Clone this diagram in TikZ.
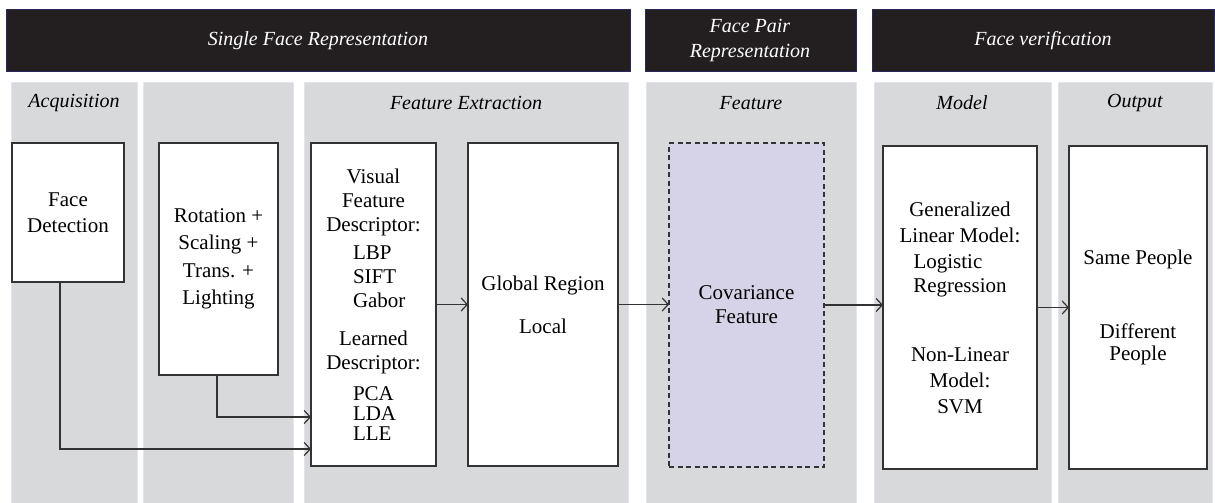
\documentclass[tikz,border=0pt]{standalone}
\usepackage{fontspec}
\setmainfont{Liberation Serif}
\usetikzlibrary{arrows.meta}
\definecolor{hdr}{HTML}{231F20}
\definecolor{hdrline}{HTML}{2B2860}
\definecolor{pan}{HTML}{D8D9DB}
\definecolor{panline}{HTML}{E3E4F0}
\definecolor{covfill}{HTML}{D6D3E8}
\definecolor{ln}{HTML}{333333}
\begin{document}
\begin{tikzpicture}[x=1pt,y=-1pt,
 hdrbox/.style={draw=hdrline,line width=0.8pt,fill=hdr},
 panbox/.style={draw=panline,line width=0.8pt,fill=pan},
 hdrtext/.style={text=white,font=\fontsize{20}{25}\selectfont\itshape,align=center},
 pantext/.style={font=\fontsize{20}{24}\selectfont\itshape},
 procbox/.style={draw=ln,line width=1.2pt,fill=white,inner sep=0pt,outer sep=0pt,anchor=north west,align=center,font=\fontsize{21}{24}\selectfont},
 conn/.style={draw=ln,line width=1.2pt,-{Straight Barb[length=6pt,width=13pt]}}]
\useasboundingbox (0,0) rectangle (1215,503);
\fill[white] (0,0) rectangle (1215,503);
% headers
\draw[hdrbox] (6,9) rectangle (630,71);
\draw[hdrbox] (645,9) rectangle (856,71);
\draw[hdrbox] (872,9) rectangle (1214.5,71);
\node[hdrtext] (h1) at (318,41) {Single Face Representation};
\node[hdrtext] (h2) at (750,41) {Face Pair\\Representation};
\node[hdrtext] (h3) at (1043,41) {Face verification};
% panels
\draw[panbox] (11,82) rectangle (137,504);
\draw[panbox] (143,82) rectangle (293,504);
\draw[panbox] (304,82) rectangle (628,504);
\draw[panbox] (646,82) rectangle (856,504);
\draw[panbox] (874,82) rectangle (1051,504);
\draw[panbox] (1058,82) rectangle (1212,504);
\node[pantext] (p1) at (74,103) {Acquisition};
\node[pantext] (p3) at (466,103) {Feature Extraction};
\node[pantext] (p4) at (751,103) {Feature};
\node[pantext] (p5) at (962,103) {Model};
\node[pantext] (p6) at (1135,103) {Output};
% process boxes
\node[procbox,minimum width=112pt,minimum height=139pt] (fd) at (12,143) {Face\\[2pt]Detection};
\node[procbox,minimum width=119pt,minimum height=232pt,font=\fontsize{21}{27.5}\selectfont] (rot) at (159,143) {Rotation +\\Scaling +\\Trans. +\\Lighting};
\node[procbox,minimum width=125pt,minimum height=323pt] (vis) at (311,143) {Visual\\Feature\\Descriptor:\\[4pt]
\hspace*{11pt}\makebox[52pt][l]{LBP}\\
\hspace*{11pt}\makebox[52pt][l]{SIFT}\\
\hspace*{11pt}\makebox[52pt][l]{Gabor}\\[14pt]
Learned\\Descriptor:\\[7pt]
\hspace*{11pt}\makebox[52pt][l]{PCA}\\[-4pt]
\hspace*{11pt}\makebox[52pt][l]{LDA}\\[-4pt]
\hspace*{11pt}\makebox[52pt][l]{LLE}};
\node[procbox,minimum width=150pt,minimum height=323pt] (glob) at (468,143) {Global Region\\[19pt]Local};
\node[procbox,minimum width=155pt,minimum height=324pt,fill=covfill,dash pattern=on 5pt off 3.5pt] (cov) at (669,143) {Covariance\\Feature};
\node[procbox,minimum width=154pt,minimum height=323pt,font=\fontsize{21}{26}\selectfont] (mod) at (883,146) {Generalized\\Linear Model:\\
\makebox[93pt][l]{Logistic}\\[-2pt]Regression\\[43pt]Non-Linear\\Model:\\SVM};
\node[procbox,minimum width=138pt,minimum height=323pt] (out) at (1069,146) {Same People\\[50pt]Different\\[-2pt]People};
% connectors
\coordinate (c1) at (60,449);
\coordinate (c2) at (217,417);
\draw[conn] (fd.south -| c1) |- (vis.west |- c1);
\draw[conn] (rot.south -| c2) |- (vis.west |- c2);
\draw[conn] (vis.east) -- (glob.west);
\draw[conn] (glob.east) -- (glob.east -| cov.west);
\draw[conn] (cov.east) -- (cov.east -| mod.west);
\draw[conn] (mod.east) -- (mod.east -| out.west);
\end{tikzpicture}
\end{document}
